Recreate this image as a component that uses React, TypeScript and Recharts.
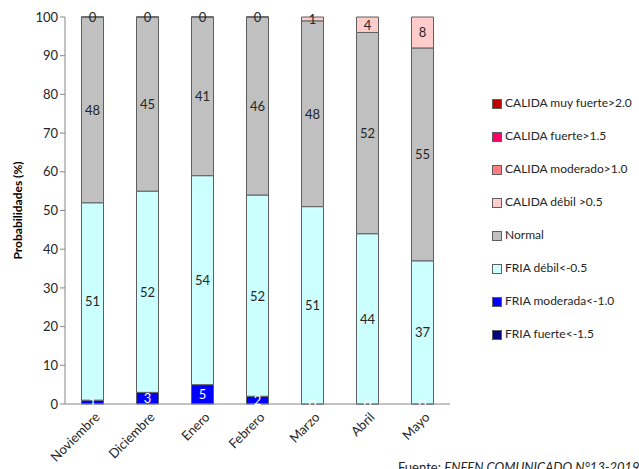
import { BarChart, Bar, XAxis, YAxis, LabelList, Label } from 'recharts';

const months = ['Noviembre', 'Diciembre', 'Enero', 'Febrero', 'Marzo', 'Abril', 'Mayo'];

// valores en %
const friaFuerte = [0, 0, 0, 0, 0, 0, 0];
const friaModerada = [1, 3, 5, 2, 0, 0, 0];
const friaDebil = [51, 52, 54, 52, 51, 44, 37];
const normal = [48, 45, 41, 46, 48, 52, 55];
const calidaDebil = [0, 0, 0, 0, 1, 4, 8];
const calidaModerado = [0, 0, 0, 0, 0, 0, 0];
const calidaFuerte = [0, 0, 0, 0, 0, 0, 0];
const calidaMuyFuerte = [0, 0, 0, 0, 0, 0, 0];

const yTicks = [0, 10, 20, 30, 40, 50, 60, 70, 80, 90, 100];
const boundaryTicks = [0, 1, 2, 3, 4, 5, 6, 7];

// label: color de la etiqueta; showZero: Excel también rotula los ceros de esa serie
const series = [
  { key: 'friaFuerte', name: 'FRIA fuerte<-1.5', color: '#000080', values: friaFuerte, label: null, showZero: false },
  { key: 'friaModerada', name: 'FRIA moderada<-1.0', color: '#0000FF', values: friaModerada, label: '#FFFFFF', showZero: true },
  { key: 'friaDebil', name: 'FRIA débil<-0.5', color: '#CCFFFF', values: friaDebil, label: '#262626', showZero: false },
  { key: 'normal', name: 'Normal', color: '#C0C0C0', values: normal, label: '#262626', showZero: false },
  { key: 'calidaDebil', name: 'CALIDA débil >0.5', color: '#FFCCCC', values: calidaDebil, label: '#262626', showZero: true },
  { key: 'calidaModerado', name: 'CALIDA moderado>1.0', color: '#FF7C80', values: calidaModerado, label: null, showZero: false },
  { key: 'calidaFuerte', name: 'CALIDA fuerte>1.5', color: '#FF0066', values: calidaFuerte, label: null, showZero: false },
  { key: 'calidaMuyFuerte', name: 'CALIDA muy fuerte>2.0', color: '#C00000', values: calidaMuyFuerte, label: null, showZero: false },
];

const data = months.map((m, i) => {
  const row: Record<string, string | number> = { month: m };
  series.forEach((s) => {
    row[s.key] = s.values[i];
  });
  return row;
});

const FONT = 'Lato, "Open Sans", sans-serif';

function MonthTick(props: any) {
  const { x, y, payload } = props;
  return (
    <text
      x={x + 8}
      y={y + 6}
      transform={`rotate(-45, ${x + 8}, ${y + 6})`}
      textAnchor="end"
      fontSize={13}
      fontFamily={FONT}
      fill="#262626"
    >
      {payload.value}
    </text>
  );
}

// etiqueta centrada en el segmento (también para segmentos de altura cero)
const makeLabel = (color: string) => (props: any) => {
  const { x, y, width, height, value } = props;
  if (value === undefined || value === null) return null;
  return (
    <text
      x={Number(x) + Number(width) / 2}
      y={Number(y) + Number(height) / 2}
      dy={5}
      textAnchor="middle"
      fontSize={13}
      fontFamily={FONT}
      fill={color}
    >
      {value}
    </text>
  );
};

export default function App() {
  return (
    <div style={{ position: 'absolute', top: 0, left: 0, width: 639, height: 469, overflow: 'hidden', background: '#fff' }}>
      <BarChart
        width={639}
        height={469}
        data={data}
        margin={{ top: 17, right: 189, bottom: 5, left: 0 }}
        barCategoryGap="30%"
      >
        <XAxis
          xAxisId="cat"
          dataKey="month"
          height={60}
          tickLine={false}
          axisLine={{ stroke: '#868686' }}
          tick={<MonthTick />}
          interval={0}
        />
        <XAxis
          xAxisId="edges"
          type="number"
          domain={[0, 7]}
          ticks={boundaryTicks}
          tick={false}
          tickSize={5}
          tickLine={{ stroke: '#868686' }}
          axisLine={false}
          height={0}
        />
        <YAxis
          width={65}
          domain={[0, 100]}
          ticks={yTicks}
          interval={0}
          tickSize={5}
          tickLine={{ stroke: '#868686' }}
          axisLine={{ stroke: '#868686' }}
          tick={{ fontSize: 13, fill: '#262626', fontFamily: FONT }}
        >
          <Label
            value="Probabilidades (%)"
            angle={-90}
            position="insideLeft"
            offset={18}
            style={{ fontSize: 12, fontWeight: 'bold', fill: '#000', fontFamily: FONT, textAnchor: 'middle' }}
          />
        </YAxis>
        {series.map((s) => (
          <Bar
            key={s.key}
            xAxisId="cat"
            dataKey={s.key}
            name={s.name}
            stackId="a"
            fill={s.color}
            stroke="#5f5f5f"
            strokeWidth={1}
            minPointSize={s.showZero ? 0.1 : 0}
            isAnimationActive={false}
          >
            {s.label && <LabelList dataKey={s.key} content={makeLabel(s.label)} />}
          </Bar>
        ))}
      </BarChart>

      <div style={{ position: 'absolute', left: 492, top: 94, fontFamily: FONT, fontSize: 12, color: '#262626' }}>
        {[...series].reverse().map((s) => (
          <div key={s.key} style={{ height: 33, display: 'flex', alignItems: 'flex-start', lineHeight: '18px' }}>
            <span
              style={{
                display: 'inline-block',
                width: 8,
                height: 8,
                marginTop: 5,
                marginRight: 3,
                background: s.color,
                border: '1px solid #5f5f5f',
              }}
            />
            {s.name}
          </div>
        ))}
      </div>

      <div style={{ position: 'absolute', left: 398, top: 459, fontFamily: FONT, fontSize: 13, color: '#262626', whiteSpace: 'nowrap' }}>
        Fuente: <i>ENFEN COMUNICADO N°13-2019</i>
      </div>
    </div>
  );
}
